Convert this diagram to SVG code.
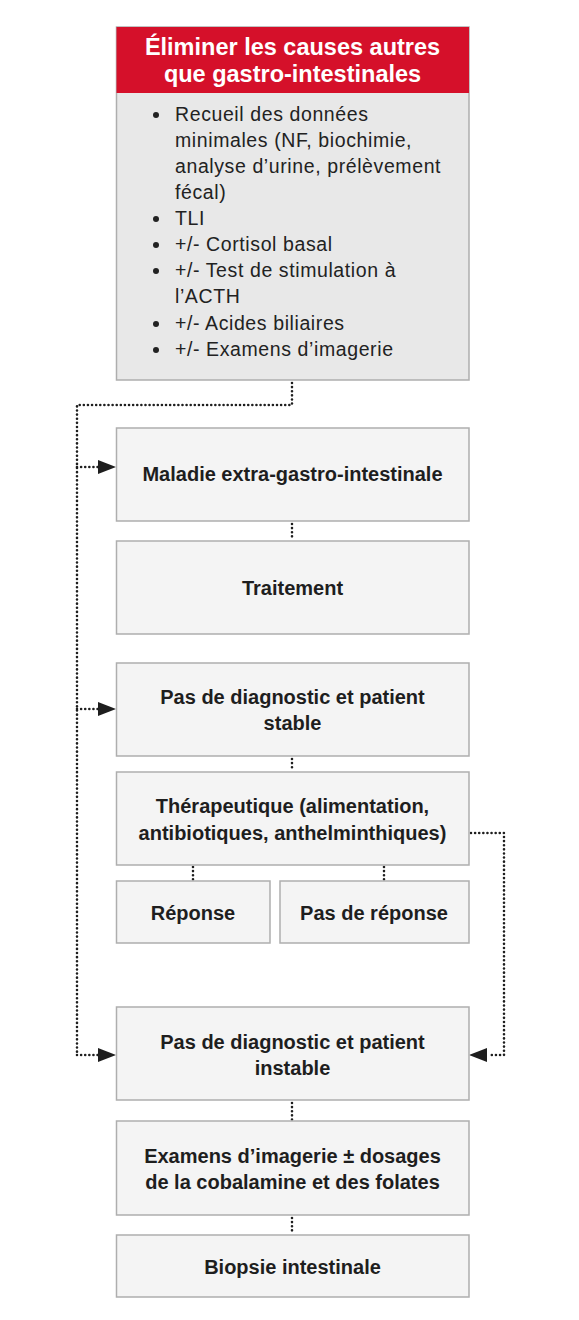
<svg xmlns="http://www.w3.org/2000/svg" width="579" height="1320" viewBox="0 0 579 1320">
<defs>
<style>
.box{fill:#f4f4f4;stroke:#aeaeae;stroke-width:1.5}
.main{fill:#e8e8e8;stroke:#aeaeae;stroke-width:1.5}
.b{font-family:"Liberation Sans",Arial,sans-serif;font-weight:bold;font-size:20px;fill:#1e1e1e;text-anchor:middle}
.h{font-family:"Liberation Sans",Arial,sans-serif;font-weight:bold;font-size:23.5px;fill:#ffffff;text-anchor:middle}
.r{font-family:"Liberation Sans",Arial,sans-serif;font-size:19.5px;fill:#222;letter-spacing:0.6px}
.dot{fill:none;stroke:#1e1e1e;stroke-width:2.6;stroke-linecap:round;stroke-dasharray:0.01 4.1}
</style>
<marker id="ah" viewBox="0 0 18 14" refX="18" refY="7" markerWidth="18" markerHeight="14" markerUnits="userSpaceOnUse" orient="auto">
<path d="M0,0 L18,7 L0,14 Z" fill="#1e1e1e"/>
</marker>
</defs>
<rect width="579" height="1320" fill="#ffffff"/>

<g id="connectors">
<path class="dot" d="M292,383 V405 H77 V1055"/>
<path class="dot" d="M77,467 H98"/>
<path class="dot" d="M77,709 H98"/>
<path class="dot" d="M77,1055 H98"/>
<path d="M98,467 H116" stroke="none" fill="none" marker-end="url(#ah)"/>
<path d="M98,709 H116" stroke="none" fill="none" marker-end="url(#ah)"/>
<path d="M98,1055 H116" stroke="none" fill="none" marker-end="url(#ah)"/>
<path class="dot" d="M471,833 H504 V1055 H488"/>
<path d="M487,1055 H469" stroke="none" fill="none" marker-end="url(#ah)"/>
<path class="dot" d="M292,524 V539"/>
<path class="dot" d="M292,759 V771"/>
<path class="dot" d="M193,867 V880"/>
<path class="dot" d="M384,867 V880"/>
<path class="dot" d="M292,1103 V1120"/>
<path class="dot" d="M292,1218 V1234"/>
</g>

<g id="main">
<rect class="main" x="116.5" y="27" width="352.5" height="353"/>
<rect x="116.5" y="27" width="352.5" height="66" fill="#d5102a"/>
<text class="h" x="292.5" y="55">Éliminer les causes autres</text>
<text class="h" x="292.5" y="82">que gastro-intestinales</text>
<g fill="#222">
<circle cx="156" cy="115" r="3"/>
<circle cx="156" cy="219" r="3"/>
<circle cx="156" cy="245" r="3"/>
<circle cx="156" cy="271" r="3"/>
<circle cx="156" cy="324" r="3"/>
<circle cx="156" cy="350" r="3"/>
</g>
<text class="r" x="175" y="121">Recueil des données</text>
<text class="r" x="175" y="147">minimales (NF, biochimie,</text>
<text class="r" x="175" y="173">analyse d’urine, prélèvement</text>
<text class="r" x="175" y="199">fécal)</text>
<text class="r" x="175" y="225">TLI</text>
<text class="r" x="175" y="251">+/- Cortisol basal</text>
<text class="r" x="175" y="277">+/- Test de stimulation à</text>
<text class="r" x="175" y="303">l’ACTH</text>
<text class="r" x="175" y="330">+/- Acides biliaires</text>
<text class="r" x="175" y="356">+/- Examens d’imagerie</text>
</g>

<g id="maladie">
<rect class="box" x="116.5" y="428" width="352.5" height="93"/>
<text class="b" x="292.5" y="481">Maladie extra-gastro-intestinale</text>
</g>

<g id="traitement">
<rect class="box" x="116.5" y="541" width="352.5" height="93"/>
<text class="b" x="292.5" y="595">Traitement</text>
</g>

<g id="stable">
<rect class="box" x="116.5" y="663" width="352.5" height="93"/>
<text class="b" x="292.5" y="704">Pas de diagnostic et patient</text>
<text class="b" x="292.5" y="730">stable</text>
</g>

<g id="therapeutique">
<rect class="box" x="116.5" y="772" width="352.5" height="93"/>
<text class="b" x="292.5" y="813">Thérapeutique (alimentation,</text>
<text class="b" x="292.5" y="840">antibiotiques, anthelminthiques)</text>
</g>

<g id="reponse">
<rect class="box" x="116.5" y="881" width="153.5" height="62"/>
<text class="b" x="193" y="920">Réponse</text>
</g>

<g id="pasreponse">
<rect class="box" x="280" y="881" width="189" height="62"/>
<text class="b" x="374" y="920">Pas de réponse</text>
</g>

<g id="instable">
<rect class="box" x="116.5" y="1007" width="352.5" height="93"/>
<text class="b" x="292.5" y="1049">Pas de diagnostic et patient</text>
<text class="b" x="292.5" y="1075">instable</text>
</g>

<g id="examens">
<rect class="box" x="116.5" y="1121" width="352.5" height="94"/>
<text class="b" x="292.5" y="1163">Examens d’imagerie ± dosages</text>
<text class="b" x="292.5" y="1189">de la cobalamine et des folates</text>
</g>

<g id="biopsie">
<rect class="box" x="116.5" y="1235" width="352.5" height="62"/>
<text class="b" x="292.5" y="1274">Biopsie intestinale</text>
</g>
</svg>
